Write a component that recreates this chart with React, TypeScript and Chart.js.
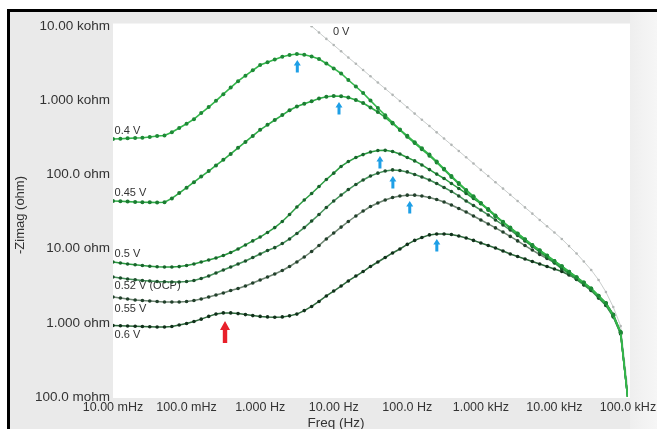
import React, { useEffect, useRef } from "react";
import { Chart, registerables } from "chart.js";

Chart.register(...registerables);

// Frequencies (Hz), 10 points per decade
const freqs = [
  0.01, 0.0126, 0.0158, 0.02, 0.0251, 0.0316, 0.0398, 0.0501, 0.0631, 0.0794,
  0.1, 0.126, 0.158, 0.2, 0.251, 0.316, 0.398, 0.501, 0.631, 0.794,
  1, 1.26, 1.58, 2, 2.51, 3.16, 3.98, 5.01, 6.31, 7.94,
  10, 12.6, 15.8, 20, 25.1, 31.6, 39.8, 50.1, 63.1, 79.4,
  100, 126, 158, 200, 251, 316, 398, 501, 631, 794,
  1000, 1260, 1580, 2000, 2510, 3160, 3980, 5010, 6310, 7940,
  10000, 12600, 15800, 20000, 25100, 31600, 39800, 50100, 63100, 79400, 100000,
];

// -Zimag (ohm) per potential
const z04 = [
  300, 303, 306, 310, 312, 319, 329, 334, 370, 422,
  482, 555, 670, 809, 982, 1205, 1479, 1804, 2138, 2529,
  2979, 3243, 3532, 3855, 4064, 4198, 4093, 3881, 3590, 3126,
  2679, 2291, 1871, 1530, 1251, 988, 785, 626, 498, 403,
  331, 272, 225, 185, 149, 119, 95.1, 76.4, 61.8, 50.6,
  41.3, 33.8, 27.6, 23.0, 19.2, 16.0, 13.4, 11.2, 9.51, 8.07,
  6.82, 5.78, 4.89, 4.12, 3.48, 2.91, 2.31, 1.84, 1.27, 0.75, 0.09,
];
const z045 = [
  43.8, 43.4, 43.0, 42.5, 42.2, 42.0, 41.8, 42.1, 47.5, 56.1,
  66.2, 78.5, 93.4, 111, 132, 157, 189, 228, 274, 330,
  399, 465, 541, 630, 731, 822, 894, 969, 1057, 1111,
  1138, 1132, 1087, 1006, 917, 797, 694, 585, 485, 398,
  321, 264, 218, 179, 145, 116, 92.5, 74.4, 60.3, 49.5,
  40.5, 33.2, 27.2, 22.7, 19.0, 15.9, 13.3, 11.1, 9.45, 8.03,
  6.80, 5.77, 4.89, 4.12, 3.48, 2.91, 2.31, 1.83, 1.26, 0.74, 0.09,
];
const z05 = [
  6.60, 6.40, 6.20, 6.05, 5.92, 5.79, 5.69, 5.65, 5.65, 5.72,
  5.92, 6.20, 6.60, 7.02, 7.47, 8.07, 8.86, 9.88, 11.2, 12.7,
  14.3, 16.5, 19.2, 23.2, 28.8, 36.4, 45.2, 55.3, 68.8, 85.4,
  104, 128, 149, 169, 185, 200, 210, 211, 204, 188,
  169, 152, 134, 116, 101, 88.1, 75.4, 64.6, 55.3, 47.3,
  40.5, 34.2, 28.0, 22.5, 18.7, 15.5, 12.9, 10.8, 9.14, 7.71,
  6.50, 5.48, 4.69, 3.95, 3.33, 2.81, 2.23, 1.77, 1.24, 0.73, 0.09,
];
const z052 = [
  4.14, 4.02, 3.89, 3.80, 3.72, 3.66, 3.60, 3.57, 3.55, 3.55,
  3.60, 3.72, 3.95, 4.27, 4.69, 5.15, 5.65, 6.20, 6.81, 7.59,
  8.46, 9.42, 10.3, 11.7, 13.5, 16.0, 19.2, 23.5, 28.8, 35.8,
  43.8, 52.7, 62.5, 73.1, 84.1, 95.1, 104, 111, 115, 113,
  108, 99.7, 92.3, 84.1, 75.4, 66.6, 58.9, 51.2, 43.8, 38.1,
  33.1, 28.4, 24.3, 20.8, 17.8, 15.0, 12.7, 10.7, 9.00, 7.59,
  6.40, 5.31, 4.55, 3.83, 3.23, 2.72, 2.16, 1.71, 1.20, 0.71, 0.09,
];
const z055 = [
  2.23, 2.16, 2.09, 2.03, 2.00, 1.97, 1.94, 1.91, 1.91, 1.91,
  1.94, 2.00, 2.09, 2.23, 2.37, 2.52, 2.72, 2.90, 3.13, 3.44,
  3.78, 4.14, 4.55, 5.07, 5.74, 6.60, 7.71, 9.14, 11.0, 13.5,
  16.2, 19.5, 23.2, 27.5, 32.1, 36.9, 41.2, 45.2, 48.9, 51.2,
  52.5, 52.5, 51.2, 48.9, 45.9, 42.5, 38.7, 34.7, 31.1, 27.5,
  24.3, 21.5, 19.0, 16.7, 14.6, 12.7, 11.0, 9.57, 8.33, 7.36,
  6.50, 5.43, 4.59, 3.87, 3.27, 2.73, 2.17, 1.73, 1.22, 0.71, 0.09,
];
const z06 = [
  0.920, 0.914, 0.906, 0.900, 0.892, 0.886, 0.878, 0.878, 0.892, 0.934,
  0.979, 1.04, 1.12, 1.22, 1.31, 1.36, 1.36, 1.33, 1.29, 1.25,
  1.22, 1.20, 1.19, 1.20, 1.24, 1.31, 1.46, 1.66, 1.94, 2.30,
  2.68, 3.13, 3.66, 4.27, 4.91, 5.74, 6.60, 7.59, 8.73, 9.88,
  11.4, 12.9, 14.1, 15.3, 15.7, 15.7, 15.5, 14.8, 13.9, 12.9,
  11.9, 11.0, 10.2, 9.29, 8.46, 7.83, 7.24, 6.70, 6.20, 5.74,
  5.31, 4.91, 4.40, 3.90, 3.40, 2.85, 2.30, 1.85, 1.30, 0.75, 0.09,
];
// 0 V: only the part from 3.98 Hz upward enters the plot
const freqs0V = freqs.slice(26);
const z0V = [
  12050, 9940, 8170, 6700,
  5540, 4560, 3760, 3100, 2550, 2100, 1730, 1430, 1180, 975,
  802, 660, 544, 449, 369, 304, 250, 207, 170, 140,
  115, 95.1, 78.3, 64.4, 53.1, 43.8, 35.9, 29.6, 24.3, 20.0,
  16.5, 13.5, 10.8, 8.59, 6.70, 5.15, 3.78, 2.60, 1.63, 0.906, 0.125,
];

const xTickValues = [0.01, 0.1, 1, 10, 100, 1000, 10000, 100000];
const xTickLabels = ["10.00 mHz", "100.0 mHz", "1.000 Hz", "10.00 Hz", "100.0 Hz", "1.000 kHz", "10.00 kHz", "100.0 kHz"];
const yTickValues = [0.1, 1, 10, 100, 1000, 10000];
const yTickLabels = ["100.0 mohm", "1.000 ohm", "10.00 ohm", "100.0 ohm", "1.000 kohm", "10.00 kohm"];

// curve labels (text, anchor frequency, anchor value)
const curveLabels = ["0 V", "0.4 V", "0.45 V", "0.5 V", "0.52 V (OCP)", "0.55 V", "0.6 V"];
const curveLabelFreq = [9.75, 0.0105, 0.0105, 0.0105, 0.0105, 0.0105, 0.0105];
const curveLabelZ = [8300, 385, 56.1, 8.57, 3.13, 1.53, 0.685];

// peak markers (arrow tip positions)
const blueArrowFreq = [3.2, 11.8, 42.5, 63.7, 108, 252];
const blueArrowZ = [3480, 946, 177, 95, 43.8, 13.5];
const redArrowFreq = [0.333];
const redArrowZ = [1.06];

const FONT = "Arial, 'Liberation Sans', Helvetica, sans-serif";

function pts(fs: number[], zs: number[]) {
  return fs.map((f, i) => ({ x: f, y: zs[i] }));
}

function findLabel(values: number[], labels: string[], v: number) {
  for (let i = 0; i < values.length; i++) {
    if (Math.abs(Math.log10(values[i]) - Math.log10(v)) < 1e-6) return labels[i];
  }
  return "";
}

export default function App() {
  const ref = useRef<HTMLCanvasElement>(null);

  useEffect(() => {
    const canvas = ref.current;
    if (!canvas) return;

    const bgPlugin = {
      id: "bg",
      beforeDraw(chart: any) {
        const { ctx, width, height, chartArea } = chart;
        ctx.save();
        ctx.fillStyle = "#ffffff";
        ctx.fillRect(0, 0, width, height);
        ctx.fillStyle = "#eaeaea";
        ctx.fillRect(7, 9, width - 7, height - 9);
        // lighter strip at the right
        const g = ctx.createLinearGradient(628, 0, width, 0);
        g.addColorStop(0, "#eeeeee");
        g.addColorStop(1, "#f6f6f6");
        ctx.fillStyle = g;
        ctx.fillRect(630, 12, width - 630, height - 12);
        ctx.fillStyle = "#000000";
        ctx.fillRect(7, 9, width - 7, 3);
        ctx.fillRect(7, 9, 3, height - 9);
        ctx.fillStyle = "#f4f4f4";
        ctx.fillRect(chartArea.left, chartArea.top - 3, chartArea.right - chartArea.left + 2, 1);
        ctx.fillStyle = "#ffffff";
        ctx.fillRect(chartArea.left, chartArea.top - 2, chartArea.right - chartArea.left + 2, chartArea.bottom - chartArea.top + 3);
        ctx.restore();
      },
    };

    const textPlugin = {
      id: "texts",
      beforeDatasetsDraw(chart: any) {
        const { ctx } = chart;
        const xs = chart.scales.x;
        const ys = chart.scales.y;
        ctx.save();
        ctx.fillStyle = "#333333";
        ctx.font = `11px ${FONT}`;
        ctx.textAlign = "left";
        ctx.textBaseline = "middle";
        curveLabels.forEach((t, i) => {
          ctx.fillText(t, xs.getPixelForValue(curveLabelFreq[i]), ys.getPixelForValue(curveLabelZ[i]));
        });
        // axis titles
        ctx.fillStyle = "#333333";
        ctx.font = `13.5px ${FONT}`;
        ctx.textAlign = "center";
        ctx.textBaseline = "middle";
        ctx.fillText("Freq (Hz)", 336, 423);
        ctx.translate(20, 215);
        ctx.rotate(-Math.PI / 2);
        ctx.font = `13px ${FONT}`;
        ctx.fillText("-Zimag (ohm)", 0, 0);
        ctx.restore();
      },
      afterDatasetsDraw(chart: any) {
        const { ctx } = chart;
        const xs = chart.scales.x;
        const ys = chart.scales.y;
        ctx.save();
        ctx.fillStyle = "#1e9fe6";
        blueArrowFreq.forEach((f, i) => {
          const px = xs.getPixelForValue(f);
          const py = ys.getPixelForValue(blueArrowZ[i]);
          ctx.beginPath();
          ctx.moveTo(px, py);
          ctx.lineTo(px + 3.5, py + 5.5);
          ctx.lineTo(px + 1.5, py + 5.5);
          ctx.lineTo(px + 1.5, py + 12.5);
          ctx.lineTo(px - 1.5, py + 12.5);
          ctx.lineTo(px - 1.5, py + 5.5);
          ctx.lineTo(px - 3.5, py + 5.5);
          ctx.closePath();
          ctx.fill();
        });
        ctx.fillStyle = "#e8202a";
        redArrowFreq.forEach((f, i) => {
          const px = xs.getPixelForValue(f);
          const py = ys.getPixelForValue(redArrowZ[i]);
          ctx.beginPath();
          ctx.moveTo(px, py);
          ctx.lineTo(px + 5, py + 9);
          ctx.lineTo(px + 2.2, py + 9);
          ctx.lineTo(px + 2.2, py + 22);
          ctx.lineTo(px - 2.2, py + 22);
          ctx.lineTo(px - 2.2, py + 9);
          ctx.lineTo(px - 5, py + 9);
          ctx.closePath();
          ctx.fill();
        });
        ctx.restore();
      },
    };

    const ds = (label: string, data: any[], line: string, point: string, bw = 1.5, pr = 1.8) => ({
      label,
      data,
      borderColor: line,
      backgroundColor: point,
      pointBackgroundColor: point,
      pointBorderWidth: 0,
      pointRadius: pr,
      borderWidth: bw,
      tension: 0,
      showLine: true,
    });

    const chart = new Chart(canvas, {
      type: "line",
      data: {
        datasets: [
          ds("0.4 V", pts(freqs, z04), "#34b64b", "#1d8a36", 1.6, 2),
          ds("0.45 V", pts(freqs, z045), "#2fad47", "#1a7d31", 1.6, 2),
          ds("0.5 V", pts(freqs, z05), "#2a9c40", "#17652b"),
          ds("0.52 V (OCP)", pts(freqs, z052), "#45925a", "#1c4f2b"),
          ds("0.55 V", pts(freqs, z055), "#6f8673", "#22402b"),
          ds("0.6 V", pts(freqs, z06), "#2e6a3c", "#10301a"),
          ds("0 V", pts(freqs0V, z0V), "#c9cdcc", "#b2b6b5", 1, 1.3),
        ],
      },
      options: {
        responsive: false,
        animation: false,
        devicePixelRatio: 1,
        parsing: true,
        layout: { padding: { left: 0, top: 26, right: 29, bottom: 0 } },
        plugins: {
          legend: { display: false },
          tooltip: { enabled: false },
          title: { display: false },
        },
        scales: {
          x: {
            type: "logarithmic",
            min: 0.01,
            max: 100000,
            grid: { display: false, drawTicks: false },
            border: { display: false },
            afterBuildTicks: (axis: any) => {
              axis.ticks = xTickValues.map((v) => ({ value: v }));
            },
            afterFit: (axis: any) => {
              axis.height = 32;
              axis.paddingLeft = 0;
              axis.paddingRight = 0;
            },
            ticks: {
              autoSkip: false,
              maxRotation: 0,
              minRotation: 0,
              padding: 3,
              color: "#333333",
              font: { family: FONT, size: 12.5 },
              callback: (v: any) => findLabel(xTickValues, xTickLabels, Number(v)),
            },
          },
          y: {
            type: "logarithmic",
            min: 0.1,
            max: 10000,
            grid: { display: false, drawTicks: false },
            border: { display: false },
            afterBuildTicks: (axis: any) => {
              axis.ticks = yTickValues.map((v) => ({ value: v }));
            },
            afterFit: (axis: any) => {
              axis.width = 113;
              axis.paddingTop = 0;
              axis.paddingBottom = 0;
            },
            ticks: {
              autoSkip: false,
              padding: 3,
              color: "#333333",
              font: { family: FONT, size: 13.5 },
              callback: (v: any) => findLabel(yTickValues, yTickLabels, Number(v)),
            },
          },
        },
      },
      plugins: [bgPlugin, textPlugin],
    } as any);

    return () => chart.destroy();
  }, []);

  return (
    <div style={{ position: "fixed", left: 0, top: 0, width: 657, height: 429, background: "#fff" }}>
      <canvas ref={ref} width={657} height={429} style={{ display: "block", width: 657, height: 429 }} />
    </div>
  );
}
